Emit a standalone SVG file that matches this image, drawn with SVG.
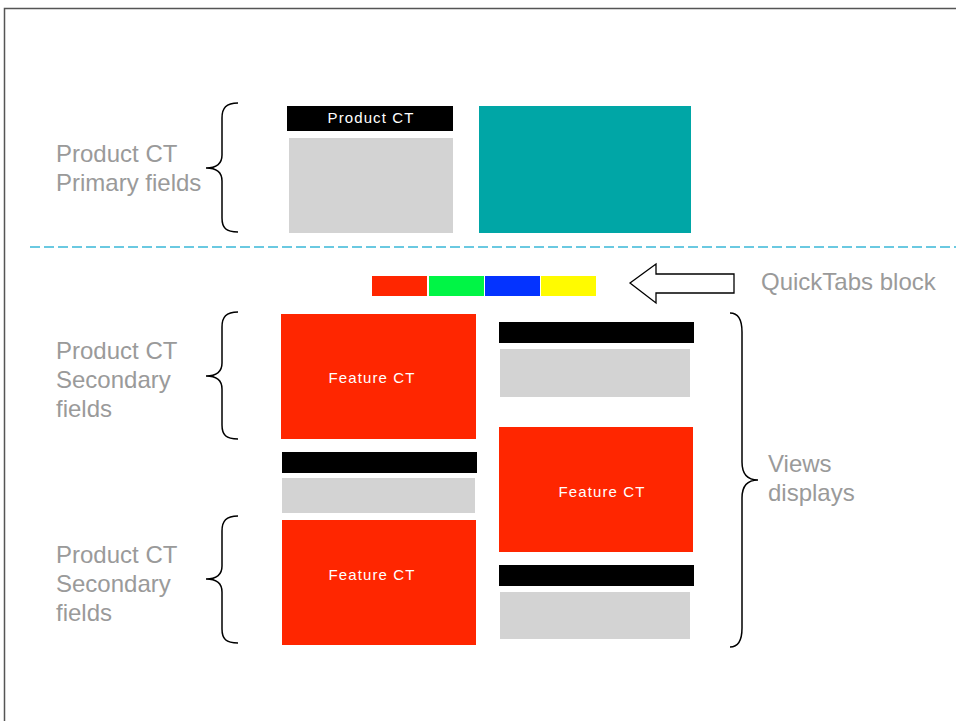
<svg xmlns="http://www.w3.org/2000/svg" width="956" height="721" viewBox="0 0 956 721">
<style>
.lbl{font-family:"Liberation Sans",Arial,sans-serif;font-size:24px;fill:#9a9a9a}
.wt{font-family:"Liberation Sans",Arial,sans-serif;font-size:15px;fill:#ffffff;letter-spacing:1.1px;text-anchor:middle}
.brace{fill:none;stroke:#000;stroke-width:1.5}
.bar{fill:#000}
.gray{fill:#d3d3d3}
.red{fill:#ff2600}
</style>
<rect width="956" height="721" fill="#fff"/>
<path d="M4.5,721 V8.5 H956" fill="none" stroke="#555" stroke-width="1.5"/>
<g id="connectors">
<line x1="30" y1="247" x2="956" y2="247" stroke="#3ab8d8" stroke-width="1.3" stroke-dasharray="10 4"/>
<path id="arrow" d="M630,283 L656,264 L656,274 L734,274 L734,293 L656,293 L656,303 Z" fill="#fff" stroke="#000" stroke-width="1.3"/>
</g>
<g id="brace-primary"><path class="brace" d="M238,103 C226,103 222,108 222,118 L222,155 C222,164 216,168 206,168 C216,168 222,172 222,181 L222,218 C222,228 226,232 238,232"/></g>
<g id="brace-secondary1"><path class="brace" d="M238,312 C226,312 222,317 222,327 L222,363 C222,372 216,376 206,376 C216,376 222,380 222,389 L222,425 C222,435 226,439 238,439"/></g>
<g id="brace-secondary2"><path class="brace" d="M238,516 C226,516 222,521 222,531 L222,566 C222,575 216,579 206,579 C216,579 222,583 222,592 L222,629 C222,639 226,643 238,643"/></g>
<g id="brace-views"><path class="brace" d="M730,313 C738,313 742,320 742,332 L742,462 C742,474 748,480 758,480 C748,480 742,486 742,498 L742,628 C742,640 738,647 730,647"/></g>
<g id="label-primary"><text class="lbl" x="56" y="162">Product CT</text><text class="lbl" x="56" y="191">Primary fields</text></g>
<g id="label-secondary1"><text class="lbl" x="56" y="359">Product CT</text><text class="lbl" x="56" y="388">Secondary</text><text class="lbl" x="56" y="417">fields</text></g>
<g id="label-secondary2"><text class="lbl" x="56" y="563">Product CT</text><text class="lbl" x="56" y="592">Secondary</text><text class="lbl" x="56" y="621">fields</text></g>
<g id="label-quicktabs"><text class="lbl" x="761" y="290">QuickTabs block</text></g>
<g id="label-views"><text class="lbl" x="768" y="472">Views</text><text class="lbl" x="768" y="501">displays</text></g>
<g id="product-ct"><rect class="bar" x="287" y="106" width="166" height="25"/><text class="wt" x="371" y="123">Product CT</text><rect class="gray" x="289" y="138" width="164" height="95"/></g>
<g id="teal-block"><rect x="479" y="106" width="212" height="127" fill="#00a6a6"/></g>
<g id="quicktabs"><rect x="372" y="276" width="55" height="20" fill="#ff2600"/><rect x="429" y="276" width="55" height="20" fill="#00f545"/><rect x="485" y="276" width="55" height="20" fill="#0433ff"/><rect x="541" y="276" width="55" height="20" fill="#fffb00"/></g>
<g id="feature-ct-1"><rect class="red" x="281" y="314" width="195" height="125"/><text class="wt" x="372" y="383">Feature CT</text></g>
<g id="view-left"><rect class="bar" x="282" y="452" width="195" height="21"/><rect class="gray" x="282" y="478" width="193" height="35"/></g>
<g id="feature-ct-2"><rect class="red" x="282" y="520" width="194" height="125"/><text class="wt" x="372" y="580">Feature CT</text></g>
<g id="view-right-1"><rect class="bar" x="499" y="322" width="195" height="21"/><rect class="gray" x="500" y="349" width="190" height="48"/></g>
<g id="feature-ct-3"><rect class="red" x="499" y="427" width="194" height="125"/><text class="wt" x="602" y="497">Feature CT</text></g>
<g id="view-right-2"><rect class="bar" x="499" y="565" width="195" height="21"/><rect class="gray" x="500" y="592" width="190" height="47"/></g>
</svg>
